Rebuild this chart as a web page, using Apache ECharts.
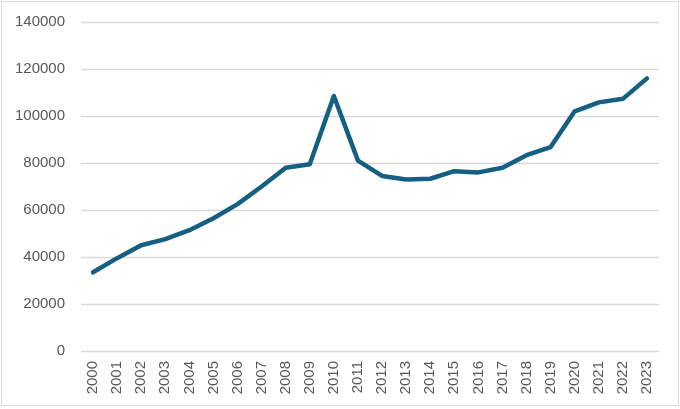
<!DOCTYPE html>
<html>
<head>
<meta charset="utf-8">
<style>
    html, body { margin: 0; padding: 0; background: #fff; }
    #chart { width: 678px; height: 405px; border: 1px solid #d9d9d9; margin: 1px; box-sizing: border-box; }
</style>
<script src="https://cdn.jsdelivr.net/npm/echarts@6/dist/echarts.min.js"></script>
</head>
<body>
<div id="chart"></div>
<script>
    var years = ['2000', '2001', '2002', '2003', '2004', '2005', '2006', '2007', '2008', '2009', '2010', '2011',
        '2012', '2013', '2014', '2015', '2016', '2017', '2018', '2019', '2020', '2021', '2022', '2023'];

    var values = [33500, 39500, 45000, 47600, 51400, 56500, 62500, 70000, 78000, 79500, 108500, 81000,
        74500, 73000, 73300, 76500, 76000, 78000, 83300, 86800, 102000, 105800, 107300, 116000];

    var myChart = echarts.init(document.getElementById('chart'));
    myChart.setOption({
        animation: false,
        grid: {
            left: 79,
            right: 19,
            top: 20,
            bottom: 54
        },
        xAxis: {
            type: 'category',
            data: years,
            boundaryGap: true,
            axisLine: { show: false },
            axisTick: { show: false },
            axisLabel: {
                rotate: 90,
                color: '#595959',
                fontSize: 15,
                fontFamily: 'Liberation Sans',
                margin: 10
            }
        },
        yAxis: {
            type: 'value',
            min: 0,
            max: 140000,
            interval: 20000,
            axisLine: { show: false },
            axisTick: { show: false },
            axisLabel: {
                color: '#595959',
                fontSize: 15,
                fontFamily: 'Liberation Sans',
                margin: 16,
                formatter: function(v) { return String(v); }
            },
            splitLine: {
                lineStyle: { color: '#d9d9d9', width: 1.3 }
            }
        },
        series: [{
            type: 'line',
            data: values,
            symbol: 'none',
            lineStyle: {
                color: '#156082',
                width: 4.5,
                cap: 'round',
                join: 'round'
            }
        }]
    });
</script>
</body>
</html>
